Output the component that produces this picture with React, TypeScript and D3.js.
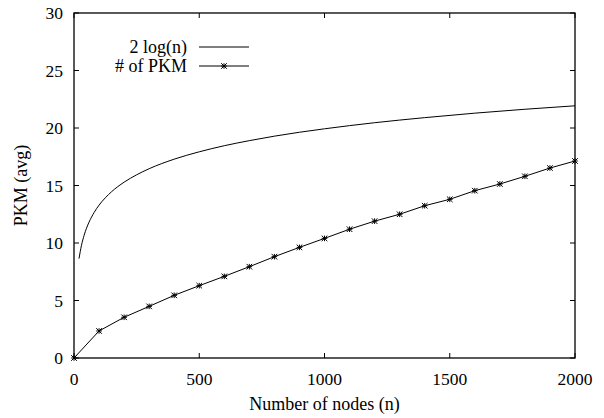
import React from "react";
import * as d3 from "d3";

// # of PKM measured every 100 nodes
const pkmNodes = [0, 100, 200, 300, 400, 500, 600, 700, 800, 900, 1000, 1100, 1200, 1300, 1400, 1500, 1600, 1700, 1800, 1900, 2000];
const pkmValues = [0, 2.35, 3.54, 4.49, 5.45, 6.29, 7.1, 7.94, 8.81, 9.62, 10.4, 11.2, 11.9, 12.5, 13.24, 13.8, 14.55, 15.13, 15.8, 16.52, 17.13];

// reference curve "2 log(n)"
const logNodes = [20, 30, 40, 50, 60, 80, 100, 125, 150, 200, 250, 300, 400, 500, 600, 700, 800, 900, 1000, 1200, 1400, 1600, 1800, 2000];
const logValues = [8.64, 9.81, 10.64, 11.29, 11.81, 12.64, 13.29, 13.93, 14.46, 15.29, 15.93, 16.46, 17.29, 17.93, 18.46, 18.9, 19.29, 19.63, 19.93, 20.46, 20.9, 21.29, 21.63, 21.93];

const xTicks = [0, 500, 1000, 1500, 2000];
const yTicks = [0, 5, 10, 15, 20, 25, 30];

const font = "'Liberation Serif', 'Times New Roman', serif";

const Star = ({ x, y }: { x: number; y: number }) => {
  const s = 2.8;
  return (
    <g stroke="#000" strokeWidth={1}>
      <line x1={x - s} y1={y} x2={x + s} y2={y} />
      <line x1={x} y1={y - s} x2={x} y2={y + s} />
      <line x1={x - s} y1={y - s} x2={x + s} y2={y + s} />
      <line x1={x - s} y1={y + s} x2={x + s} y2={y - s} />
    </g>
  );
};

const Chart = () => {
  const width = 604;
  const height = 418;
  const left = 74;
  const right = 575;
  const top = 13;
  const bottom = 358;
  const tick = 5;

  const x = d3.scaleLinear().domain([0, 2000]).range([left, right]);
  const y = d3.scaleLinear().domain([0, 30]).range([bottom, top]);

  const logLine = d3
    .line<number>()
    .x((d, i) => x(logNodes[i]))
    .y((d) => y(d))
    .curve(d3.curveMonotoneX);

  const pkmLine = d3
    .line<number>()
    .x((d, i) => x(pkmNodes[i]))
    .y((d) => y(d));

  return (
    <svg width={width} height={height} style={{ position: "absolute", left: 0, top: 0 }} fontFamily={font}>
      <rect width={width} height={height} fill="#fff" />

      {/* ticks on all four sides, gnuplot style */}
      {xTicks.map((t) => (
        <g key={"x" + t}>
          <line x1={x(t)} x2={x(t)} y1={bottom} y2={bottom - tick} stroke="#000" />
          <line x1={x(t)} x2={x(t)} y1={top} y2={top + tick} stroke="#000" />
          <text x={x(t)} y={bottom + 27} textAnchor="middle" fontSize={17.5}>
            {t}
          </text>
        </g>
      ))}
      {yTicks.map((t) => (
        <g key={"y" + t}>
          <line x1={left} x2={left + tick} y1={y(t)} y2={y(t)} stroke="#000" />
          <line x1={right} x2={right - tick} y1={y(t)} y2={y(t)} stroke="#000" />
          <text x={63} y={y(t) + 6} textAnchor="end" fontSize={17.5}>
            {t}
          </text>
        </g>
      ))}

      <path d={logLine(logValues) || ""} fill="none" stroke="#000" strokeWidth={1} />
      <path d={pkmLine(pkmValues) || ""} fill="none" stroke="#000" strokeWidth={1} />
      {pkmValues.map((v, i) => (
        <Star key={i} x={x(pkmNodes[i])} y={y(v)} />
      ))}

      <rect x={left} y={top} width={right - left} height={bottom - top} fill="none" stroke="#000" strokeWidth={1.3} />

      {/* legend */}
      <text x={187} y={53} textAnchor="end" fontSize={18}>
        2 log(n)
      </text>
      <line x1={199} x2={249} y1={47} y2={47} stroke="#000" />
      <text x={187} y={72} textAnchor="end" fontSize={18}>
        # of PKM
      </text>
      <line x1={199} x2={249} y1={66} y2={66} stroke="#000" />
      <Star x={224} y={66} />

      <text x={(left + right) / 2} y={410} textAnchor="middle" fontSize={18}>
        Number of nodes (n)
      </text>
      <text transform={`translate(27, ${(top + bottom) / 2}) rotate(-90)`} textAnchor="middle" fontSize={18}>
        PKM (avg)
      </text>
    </svg>
  );
};

export default function App() {
  return <Chart />;
}
